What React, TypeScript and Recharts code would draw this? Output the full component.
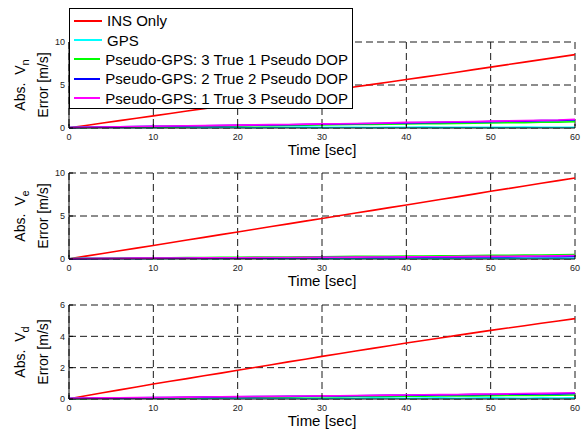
import React from 'react';
import { LineChart, Line, XAxis, YAxis, CartesianGrid, Legend, Label } from 'recharts';

const FONT = '"Liberation Sans", Arial, sans-serif';

const time = [0, 2, 4, 6, 8, 10, 12, 14, 16, 18, 20, 22, 24, 26, 28, 30, 32, 34, 36, 38, 40, 42, 44, 46, 48, 50, 52, 54, 56, 58, 60];
const xTicks = [0, 10, 20, 30, 40, 50, 60];

const seriesKeys = ['ins', 'gps', 'p31', 'p22', 'p13'];
const seriesNames = [
    'INS Only',
    'GPS',
    'Pseudo-GPS: 3 True 1 Pseudo DOP',
    'Pseudo-GPS: 2 True 2 Pseudo DOP',
    'Pseudo-GPS: 1 True 3 Pseudo DOP',
];
const seriesColors = ['#ff0000', '#00ffff', '#00ff00', '#0000ff', '#ff00ff'];

// north velocity error
const vnIns = [0.03, 0.3, 0.58, 0.86, 1.13, 1.41, 1.69, 1.97, 2.25, 2.54, 2.82, 3.1, 3.38, 3.66, 3.95, 4.23, 4.51, 4.79, 5.07, 5.35, 5.63, 5.92, 6.2, 6.49, 6.79, 7.08, 7.37, 7.66, 7.95, 8.24, 8.53];
const vnGps = [0.05, 0.07, 0.08, 0.06, 0.09, 0.07, 0.08, 0.1, 0.07, 0.09, 0.08, 0.06, 0.09, 0.08, 0.1, 0.07, 0.09, 0.08, 0.06, 0.09, 0.08, 0.1, 0.07, 0.09, 0.08, 0.07, 0.09, 0.1, 0.08, 0.09, 0.08];
const vnP31 = [0.03, 0.06, 0.09, 0.1, 0.13, 0.15, 0.16, 0.19, 0.21, 0.22, 0.25, 0.27, 0.28, 0.31, 0.33, 0.36, 0.37, 0.4, 0.42, 0.44, 0.47, 0.49, 0.5, 0.53, 0.55, 0.58, 0.61, 0.63, 0.66, 0.68, 0.72];
const vnP22 = [0.04, 0.08, 0.11, 0.13, 0.17, 0.19, 0.21, 0.24, 0.26, 0.28, 0.31, 0.33, 0.36, 0.38, 0.41, 0.44, 0.46, 0.49, 0.52, 0.55, 0.6, 0.62, 0.65, 0.68, 0.7, 0.74, 0.78, 0.8, 0.86, 0.88, 0.95];
const vnP13 = [0.05, 0.09, 0.12, 0.15, 0.18, 0.2, 0.23, 0.26, 0.28, 0.3, 0.33, 0.36, 0.39, 0.41, 0.45, 0.48, 0.5, 0.53, 0.56, 0.6, 0.65, 0.67, 0.7, 0.72, 0.76, 0.8, 0.83, 0.86, 0.9, 0.93, 1.02];

// east velocity error
const veIns = [0.03, 0.33, 0.64, 0.95, 1.26, 1.57, 1.88, 2.2, 2.51, 2.83, 3.14, 3.45, 3.77, 4.08, 4.4, 4.71, 5.03, 5.34, 5.65, 5.97, 6.28, 6.6, 6.91, 7.22, 7.54, 7.87, 8.18, 8.49, 8.8, 9.11, 9.42];
const veGps = [0.06, 0.07, 0.05, 0.08, 0.07, 0.09, 0.06, 0.08, 0.07, 0.05, 0.08, 0.09, 0.07, 0.06, 0.08, 0.07, 0.09, 0.06, 0.08, 0.07, 0.09, 0.08, 0.06, 0.09, 0.08, 0.1, 0.07, 0.09, 0.08, 0.1, 0.09];
const veP31 = [0.03, 0.06, 0.08, 0.1, 0.12, 0.13, 0.15, 0.16, 0.17, 0.19, 0.2, 0.22, 0.23, 0.24, 0.26, 0.27, 0.28, 0.3, 0.31, 0.32, 0.34, 0.35, 0.37, 0.38, 0.39, 0.42, 0.43, 0.45, 0.46, 0.48, 0.52];
const veP22 = [0.02, 0.04, 0.05, 0.06, 0.07, 0.08, 0.09, 0.09, 0.1, 0.11, 0.12, 0.13, 0.13, 0.14, 0.15, 0.16, 0.17, 0.17, 0.18, 0.19, 0.2, 0.21, 0.22, 0.22, 0.23, 0.24, 0.25, 0.26, 0.27, 0.28, 0.3];
const veP13 = [0.03, 0.05, 0.07, 0.08, 0.1, 0.1, 0.12, 0.12, 0.13, 0.15, 0.15, 0.16, 0.18, 0.18, 0.19, 0.21, 0.21, 0.22, 0.24, 0.24, 0.25, 0.27, 0.27, 0.28, 0.3, 0.31, 0.32, 0.34, 0.35, 0.36, 0.4];

// down velocity error
const vdIns = [0.02, 0.21, 0.4, 0.58, 0.77, 0.96, 1.13, 1.3, 1.48, 1.65, 1.83, 2.01, 2.19, 2.37, 2.54, 2.72, 2.89, 3.06, 3.23, 3.4, 3.57, 3.73, 3.89, 4.06, 4.22, 4.38, 4.53, 4.68, 4.83, 4.98, 5.13];
const vdGps = [0.04, 0.05, 0.06, 0.04, 0.05, 0.07, 0.05, 0.06, 0.04, 0.06, 0.05, 0.07, 0.05, 0.06, 0.05, 0.04, 0.06, 0.05, 0.07, 0.06, 0.05, 0.06, 0.07, 0.05, 0.06, 0.07, 0.06, 0.05, 0.07, 0.06, 0.07];
const vdP31 = [0.02, 0.04, 0.05, 0.06, 0.07, 0.08, 0.08, 0.09, 0.1, 0.1, 0.11, 0.12, 0.12, 0.13, 0.14, 0.14, 0.15, 0.16, 0.16, 0.17, 0.18, 0.18, 0.19, 0.2, 0.2, 0.21, 0.22, 0.23, 0.23, 0.24, 0.26];
const vdP22 = [0.03, 0.05, 0.06, 0.07, 0.08, 0.09, 0.1, 0.11, 0.12, 0.13, 0.14, 0.15, 0.16, 0.17, 0.18, 0.19, 0.2, 0.21, 0.22, 0.23, 0.24, 0.25, 0.26, 0.27, 0.28, 0.29, 0.3, 0.31, 0.32, 0.33, 0.35];
const vdP13 = [0.04, 0.06, 0.07, 0.08, 0.09, 0.1, 0.11, 0.12, 0.13, 0.14, 0.15, 0.16, 0.17, 0.18, 0.19, 0.2, 0.21, 0.22, 0.23, 0.25, 0.26, 0.27, 0.28, 0.29, 0.31, 0.32, 0.33, 0.35, 0.36, 0.38, 0.4];

const buildRows = (cols: number[][]) =>
    time.map((t, i) => {
        const row: any = { t };
        seriesKeys.forEach((k, j) => (row[k] = cols[j][i]));
        return row;
    });

const vnRows = buildRows([vnIns, vnGps, vnP31, vnP22, vnP13]);
const veRows = buildRows([veIns, veGps, veP31, veP22, veP13]);
const vdRows = buildRows([vdIns, vdGps, vdP31, vdP22, vdP13]);

const YLabel = ({ viewBox, sub }: any) => {
    const cy = viewBox.y + viewBox.height / 2;
    return (
        <g fontFamily={FONT} fontSize={14} fill="#000">
            <text x={25} y={cy} textAnchor="middle" transform={`rotate(-90, 25, ${cy})`}>
                {'Abs.\u00a0\u00a0V'}
                <tspan dy={4} fontSize={11}>{sub}</tspan>
            </text>
            <text x={48} y={cy} textAnchor="middle" transform={`rotate(-90, 48, ${cy})`}>
                Error [m/s]
            </text>
        </g>
    );
};

// keep the legend in the plotting order, not alphabetical
const LegendBox = ({ payload }: any) => {
    const items = [...(payload || [])].sort(
        (a: any, b: any) => seriesNames.indexOf(a.value) - seriesNames.indexOf(b.value)
    );
    return (
        <div
            style={{
                width: 284,
                height: 101,
                boxSizing: 'border-box',
                border: '1px solid #000',
                background: '#fff',
                padding: '2px 4px',
                fontFamily: FONT,
                fontSize: 15,
                fontWeight: 400,
                color: '#000',
            }}
        >
            {items.map((e: any) => (
                <div key={e.value} style={{ display: 'flex', alignItems: 'center', height: 19.4, whiteSpace: 'nowrap' }}>
                    <span style={{ display: 'inline-block', width: 28, height: 2, background: e.color, marginRight: 5 }} />
                    {e.value}
                </div>
            ))}
        </div>
    );
};

const tickStyle = { fontSize: 9, fill: '#222', fontFamily: FONT };

function Panel({ rows, top, height, marginTop, yMax, yTicks, sub, legend }: any) {
    return (
        <div style={{ position: 'absolute', left: 0, top, width: 584, height }}>
            <LineChart width={584} height={height} data={rows} margin={{ top: marginTop, right: 9, bottom: 0, left: 0 }}>
                <CartesianGrid stroke="#1a1a1a" strokeDasharray="7 4" />
                <XAxis
                    dataKey="t"
                    type="number"
                    domain={[0, 60]}
                    ticks={xTicks}
                    height={32}
                    tickSize={-4}
                    tickMargin={10}
                    tick={tickStyle}
                    axisLine={{ stroke: '#000' }}
                    tickLine={{ stroke: '#000' }}
                >
                    <Label value="Time [sec]" position="insideBottom" offset={5} style={{ fontSize: 15, fill: '#000', fontFamily: FONT }} />
                </XAxis>
                <XAxis
                    xAxisId="top"
                    orientation="top"
                    dataKey="t"
                    type="number"
                    domain={[0, 60]}
                    ticks={xTicks}
                    height={0}
                    tickSize={-4}
                    tick={false}
                    axisLine={{ stroke: '#000' }}
                    tickLine={{ stroke: '#000' }}
                />
                <YAxis
                    type="number"
                    domain={[0, yMax]}
                    ticks={yTicks}
                    width={69}
                    tickSize={-4}
                    tickMargin={8}
                    tick={tickStyle}
                    axisLine={{ stroke: '#000' }}
                    tickLine={{ stroke: '#000' }}
                >
                    <Label content={(p: any) => <YLabel {...p} sub={sub} />} />
                </YAxis>
                <YAxis
                    yAxisId="right"
                    orientation="right"
                    type="number"
                    domain={[0, yMax]}
                    ticks={yTicks}
                    width={0}
                    tickSize={-4}
                    tick={false}
                    axisLine={{ stroke: '#000' }}
                    tickLine={{ stroke: '#000' }}
                />
                {seriesKeys.map((k, i) => (
                    <Line
                        key={k}
                        dataKey={k}
                        name={seriesNames[i]}
                        stroke={seriesColors[i]}
                        strokeWidth={1.6}
                        dot={false}
                        type="linear"
                        isAnimationActive={false}
                    />
                ))}
                {legend && (
                    <Legend
                        layout="horizontal"
                        verticalAlign="middle"
                        align="center"
                        content={<LegendBox />}
                        wrapperStyle={{ left: 69, top: 8, width: 284, height: 101 }}
                    />
                )}
            </LineChart>
        </div>
    );
}

export default function App() {
    return (
        <div style={{ position: 'absolute', left: 0, top: 0, width: 584, height: 434, background: '#fff' }}>
            <Panel rows={vnRows} top={0} height={160} marginTop={42} yMax={10} yTicks={[0, 5, 10]} sub="n" legend />
            <Panel rows={veRows} top={160} height={131} marginTop={13} yMax={10} yTicks={[0, 5, 10]} sub="e" />
            <Panel rows={vdRows} top={291} height={140} marginTop={14} yMax={6} yTicks={[0, 2, 4, 6]} sub="d" />
        </div>
    );
}
